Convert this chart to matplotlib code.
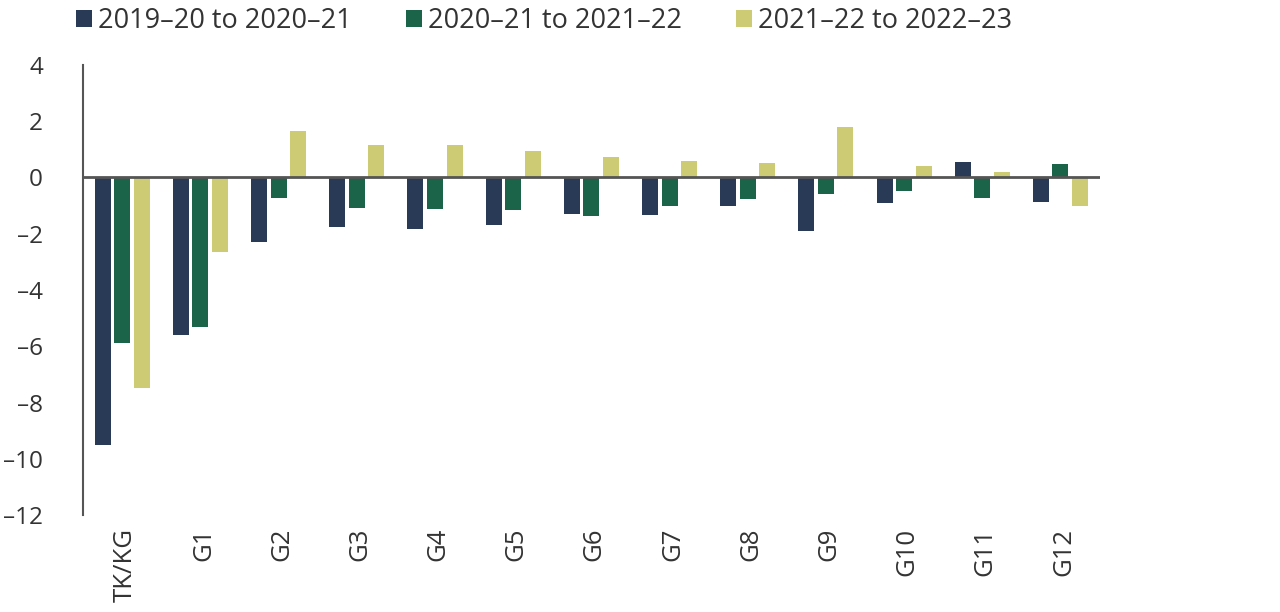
import numpy as np
import matplotlib
matplotlib.use("Agg")
from matplotlib import pyplot as plt
from matplotlib.ticker import FuncFormatter
from matplotlib.transforms import ScaledTranslation

# categories and series
groups = ['TK/KG', 'G1', 'G2', 'G3', 'G4', 'G5', 'G6', 'G7', 'G8', 'G9', 'G10', 'G11', 'G12']
labels = ['2019\u201320 to 2020\u201321', '2020\u201321 to 2021\u201322', '2021\u201322 to 2022\u201323']
s1 = [-9.5, -5.6, -2.29, -1.75, -1.83, -1.68, -1.30, -1.33, -1.03, -1.90, -0.89, 0.56, -0.86]
s2 = [-5.87, -5.3, -0.72, -1.08, -1.11, -1.15, -1.38, -1.03, -0.78, -0.59, -0.49, -0.72, 0.49]
s3 = [-7.49, -2.65, 1.66, 1.16, 1.17, 0.94, 0.72, 0.60, 0.51, 1.79, 0.42, 0.19, -1.01]
colors = ['#283a55', '#1b644a', '#cdcb74']

plt.rcParams['font.family'] = ['Open Sans', 'DejaVu Sans']
txt = '#333333'

fig = plt.figure(figsize=(12.8, 6.12), dpi=100)
ax = fig.add_axes([0.065, 0.158, 0.794, 0.736])

x = np.arange(len(groups))
w = 0.205
step = 0.25
for i, (vals, c, lab) in enumerate(zip([s1, s2, s3], colors, labels)):
    ax.bar(x + (i - 1) * step, vals, width=w, color=c, label=lab, zorder=2)

ax.axhline(0, color='#555555', lw=2, zorder=3)
ax.set_xlim(-0.5, 12.5)
ax.set_ylim(-12, 4)
ax.set_yticks(np.arange(-12, 5, 2))
ax.yaxis.set_major_formatter(FuncFormatter(lambda v, p: f'{int(v)}'.replace('-', '\u2013')))
ax.set_xticks(x)
ax.set_xticklabels(groups, rotation=90, va='top', ha='center')
ax.tick_params(axis='both', length=0, colors=txt)
ax.tick_params(axis='x', pad=9, labelsize=18.5)
ax.tick_params(axis='y', pad=29, labelsize=17.5)
# nudge x labels slightly right, as in the original
shift = ScaledTranslation(3 / 100, 0, fig.dpi_scale_trans)
for lbl in ax.get_xticklabels():
    lbl.set_transform(lbl.get_transform() + shift)

for s in ['top', 'right', 'bottom']:
    ax.spines[s].set_visible(False)
ax.spines['left'].set_color('#555555')
ax.spines['left'].set_linewidth(1.5)

fig.legend(loc='upper left', bbox_to_anchor=(0.0407, 1.028), ncol=3, frameon=False,
           fontsize=19.5, handlelength=0.59, handleheight=0.59, handletextpad=0.22,
           columnspacing=2.0, labelcolor=txt)

fig.savefig('out.png', dpi=100)
